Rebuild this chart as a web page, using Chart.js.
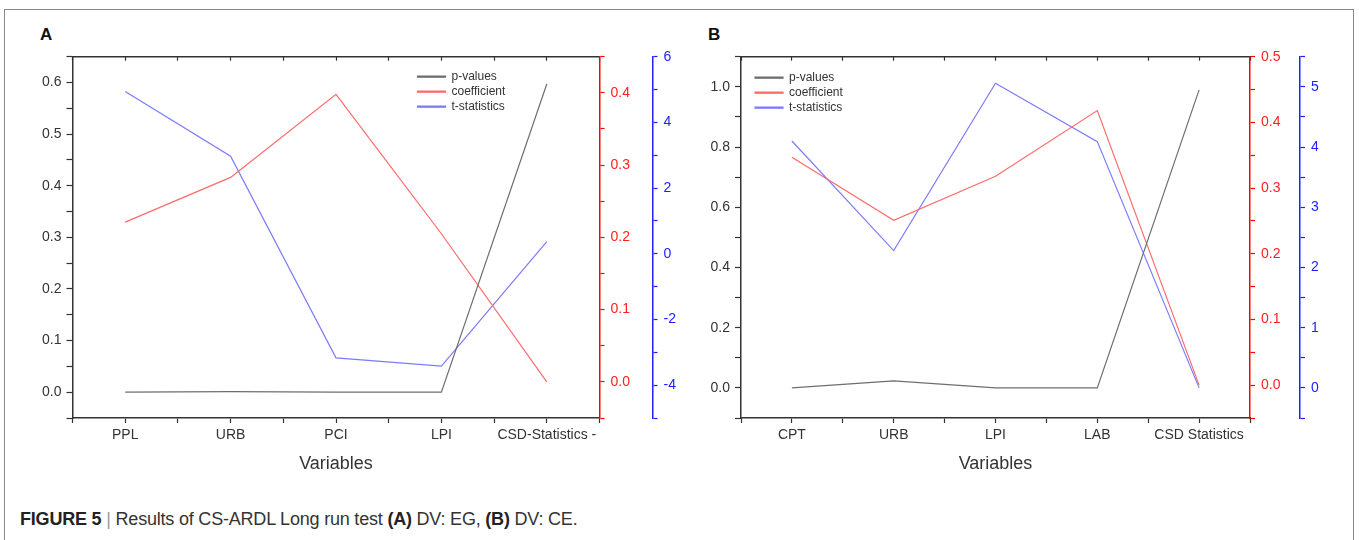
<!doctype html>
<html lang="en">
  <head>
    <meta charset="utf-8">
    <title>Figure 5 - CS-ARDL long run test</title>
    <script src="https://cdn.jsdelivr.net/npm/chart.js@4.4.0/dist/chart.umd.min.js"></script>
    <style>
      html, body { margin: 0; padding: 0; background: #fff; width: 1359px; height: 540px; overflow: hidden; }
      body { position: relative; font-family: "Liberation Sans", Arial, sans-serif; }
      .frame { position: absolute; left: 4px; top: 9px; width: 1350px; height: 600px; border: 1.5px solid #8a8a8a; box-sizing: border-box; }
      .panel-tag { position: absolute; font-size: 17px; font-weight: bold; color: #111; line-height: 1; }
      canvas { position: absolute; }
      .caption { position: absolute; left: 20px; top: 509px; font-size: 18px; color: #333; white-space: nowrap; letter-spacing: -0.2px; }
      .caption b { color: #222; }
      .caption .sep { color: #999; }
    </style>
  </head>
  <body>
    <div class="frame"></div>
    <div class="panel-tag" style="left:40px; top:26px;">A</div>
    <div class="panel-tag" style="left:708px; top:26px;">B</div>

    <canvas id="chartA" width="700" height="450" style="left:0px; top:40px;"></canvas>
    <canvas id="chartB" width="690" height="450" style="left:669px; top:40px;"></canvas>

    <div class="caption"><b>FIGURE 5</b> <span class="sep">|</span> Results of CS-ARDL Long run test <b>(A)</b> DV: EG, <b>(B)</b> DV: CE.</div>

    <script>
      // Panel A - DV: EG
      const catsA = ['PPL', 'URB', 'PCI', 'LPI', 'CSD-Statistics -'];
      const pValuesA = [0.0, 0.001, 0.0, 0.0, 0.597];
      const coefA = [0.221, 0.283, 0.398, 0.205, 0.0];
      const tStatA = [4.94, 2.97, -3.17, -3.42, 0.37];

      // Panel B - DV: CE
      const catsB = ['CPT', 'URB', 'LPI', 'LAB', 'CSD Statistics'];
      const pValuesB = [0.0, 0.023, 0.0, 0.0, 0.99];
      const coefB = [0.347, 0.251, 0.318, 0.418, 0.0];
      const tStatB = [4.10, 2.28, 5.06, 4.09, 0.0];

      const seriesNames = ['p-values', 'coefficient', 't-statistics'];

      Chart.defaults.font.family = '"Liberation Sans", Arial, sans-serif';
      Chart.defaults.color = '#333';

      // move the legend box inside the plot area
      const legendShift = {
        id: 'legendShift',
        afterLayout(chart, args, opts) {
          const lg = chart.legend;
          if (!lg) return;
          const area = chart.chartArea;
          lg.left = area.left + opts.x;
          lg.right = area.right;
          lg.top = area.top + opts.y;
          lg.bottom = area.bottom;
        }
      };

      function points(vals) {
        return vals.map((v, i) => ({x: i, y: v}));
      }

      function fmtTenths(v, every) {
        const k = Math.round(v * 100);
        if (k % every !== 0) return '';
        return (k / 100).toFixed(1);
      }

      function makeChart(id, cats, pv, coef, tst, cfg) {
        const ctx = document.getElementById(id);
        return new Chart(ctx, {
          type: 'line',
          data: {
            datasets: [
              { label: seriesNames[0], data: points(pv), yAxisID: 'y',
                borderColor: '#6e6e6e', backgroundColor: '#6e6e6e', borderWidth: 1.2 },
              { label: seriesNames[1], data: points(coef), yAxisID: 'y1',
                borderColor: '#ff6a6a', backgroundColor: '#ff6a6a', borderWidth: 1.2 },
              { label: seriesNames[2], data: points(tst), yAxisID: 'y2',
                borderColor: '#7b7bff', backgroundColor: '#7b7bff', borderWidth: 1.2 }
            ]
          },
          plugins: [legendShift],
          options: {
            responsive: false,
            animation: false,
            events: [],
            elements: { point: { radius: 0 }, line: { tension: 0 } },
            layout: { padding: { left: 0, top: 16.7, right: cfg.padRight, bottom: 0 } },
            plugins: {
              tooltip: { enabled: false },
              legendShift: { x: cfg.legendX, y: cfg.legendY },
              legend: {
                position: 'chartArea',
                align: 'start',
                labels: {
                  boxWidth: 28,
                  boxHeight: 1,
                  padding: 3,
                  color: '#333',
                  font: { size: 12 }
                }
              }
            },
            scales: {
              x: {
                type: 'linear',
                position: 'bottom',
                min: -0.5,
                max: 4.5,
                afterFit: (axis) => { axis.height = 72; },
                border: { display: true, color: '#333', width: 1.5 },
                grid: { drawOnChartArea: false, tickLength: 5, tickColor: '#333', tickWidth: 1.2 },
                ticks: {
                  stepSize: 0.5,
                  autoSkip: false,
                  maxRotation: 0,
                  padding: 4,
                  color: '#333',
                  font: { size: 14 },
                  callback: (v) => Number.isInteger(v) ? cats[v] : ''
                },
                title: {
                  display: true,
                  text: 'Variables',
                  color: '#333',
                  font: { size: 18 },
                  padding: { top: 4, bottom: 15 }
                }
              },
              x2: {
                type: 'linear',
                position: 'top',
                min: -0.5,
                max: 4.5,
                afterFit: (axis) => { axis.height = 0; },
                border: { display: true, color: '#333', width: 1.5 },
                grid: { drawOnChartArea: false, tickLength: -4, tickColor: '#333', tickWidth: 1.2 },
                ticks: { stepSize: 0.5, autoSkip: false, display: false }
              },
              y: {
                position: 'left',
                min: cfg.y.min,
                max: cfg.y.max,
                afterFit: (axis) => { axis.width = cfg.y.width; },
                border: { display: true, color: '#333', width: 1.5 },
                grid: { drawOnChartArea: false, tickLength: 6, tickColor: '#333', tickWidth: 1.2 },
                ticks: {
                  stepSize: cfg.y.step,
                  autoSkip: false,
                  padding: 5,
                  color: '#333',
                  font: { size: 14 },
                  callback: (v) => fmtTenths(v, cfg.y.every)
                }
              },
              y1: {
                position: 'right',
                weight: 1,
                min: cfg.y1.min,
                max: cfg.y1.max,
                afterFit: (axis) => { axis.width = cfg.y1.width; },
                border: { display: true, color: '#ff0000', width: 1.5 },
                grid: { drawOnChartArea: false, tickLength: 5, tickColor: '#ff0000', tickWidth: 1.2 },
                ticks: {
                  stepSize: 0.05,
                  autoSkip: false,
                  padding: 6,
                  color: '#ff2020',
                  font: { size: 14 },
                  callback: (v) => fmtTenths(v, 10)
                }
              },
              y2: {
                position: 'right',
                weight: 2,
                min: cfg.y2.min,
                max: cfg.y2.max,
                afterFit: (axis) => { axis.width = cfg.y2.width; },
                border: { display: true, color: '#2020ff', width: 1.5 },
                grid: { drawOnChartArea: false, tickLength: 5, tickColor: '#2020ff', tickWidth: 1.2 },
                ticks: {
                  stepSize: cfg.y2.step,
                  autoSkip: false,
                  padding: 6,
                  color: '#2020ff',
                  font: { size: 14 },
                  callback: (v) => {
                    const k = Math.round(v * 2);
                    return (k % cfg.y2.every === 0) ? String(k / 2) : '';
                  }
                }
              }
            }
          }
        });
      }

      makeChart('chartA', catsA, pValuesA, coefA, tStatA, {
        padRight: 7.5,
        legendX: 342,
        legendY: 11,
        y: { min: -0.05, max: 0.65, step: 0.05, every: 10, width: 72.5 },
        y1: { min: -0.05, max: 0.45, width: 53 },
        y2: { min: -5, max: 6, step: 1, every: 4, width: 40 }
      });

      makeChart('chartB', catsB, pValuesB, coefB, tStatB, {
        padRight: 19,
        legendX: 11,
        legendY: 12,
        y: { min: -0.1, max: 1.1, step: 0.1, every: 20, width: 72 },
        y1: { min: -0.05, max: 0.5, width: 50 },
        y2: { min: -0.5, max: 5.5, step: 0.5, every: 2, width: 40 }
      });
    </script>
  </body>
</html>
